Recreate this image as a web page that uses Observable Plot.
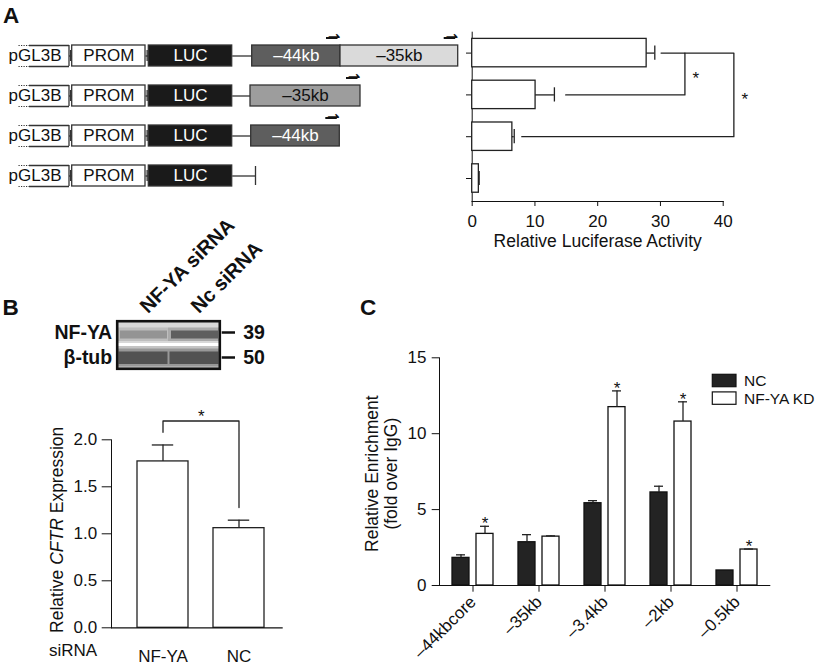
<!DOCTYPE html>
<html><head><meta charset="utf-8">
<script src="https://cdn.jsdelivr.net/npm/d3@7"></script>
<script src="https://cdn.jsdelivr.net/npm/@observablehq/plot@0.6"></script>
<style>
html,body{margin:0;padding:0;background:#fff;}
#fig{position:relative;width:827px;height:667px;overflow:hidden;background:#fff;font-family:"Liberation Sans",Arial,sans-serif;}
</style></head><body><div id="fig"></div>
<script>
// ================= DATA =================
// Panel A: reporter constructs (schematic units) + luciferase activity
const constructs = ["–44kb/–35kb", "–35kb", "–44kb", "vector"];
const vectorParts = ["pGL3B", "PROM", "LUC"];
const vectorStarts = [18, 71.7, 148.3];
const vectorEnds = [68.5, 145, 231.7];
const linkerEnds = [251.7, 250, 250.7, 255];
const insertConstruct = ["–44kb/–35kb", "–44kb/–35kb", "–35kb", "–44kb"];
const insertNames = ["–44kb", "–35kb", "–35kb", "–44kb"];
const insertStarts = [251.7, 340, 250, 250.7];
const insertEnds = [340, 457.7, 360, 339.3];
const luciferase = [27.8, 10.1, 6.4, 1.06];
const luciferaseErr = [1.3, 3.0, 0.3, 0.05];
const lucTicks = [0, 10, 20, 30, 40];
const bracketRowsA = [[0, 1], [0, 2]];
const bracketXA = [33.9, 41.7];
const bracketStartTopA = [30.1, 33.9];
const bracketStartBottomA = [14.9, 7.9];

// Panel B: western blot + CFTR expression
const blotLanes = ["NF-YA siRNA", "Nc siRNA"];
const blotProteins = ["NF-YA", "β-tub"];
const blotMarkers = ["39", "50"];
const blotIntensity = [[0.45, 0.82], [0.88, 0.88]];
const siRNA = ["NF-YA", "NC"];
const cftr = [1.77, 1.06];
const cftrErr = [0.175, 0.085];
const cftrTicks = [0, 0.5, 1.0, 1.5, 2.0];
const cftrBracket = [2.08, 2.2, 1.28];

// Panel C: ChIP enrichment
const regions = ["–44kbcore", "–35kb", "–3.4kb", "–2kb", "–0.5kb"];
const seriesC = ["NC", "NF-YA KD"];
const ncVals = [1.82, 2.85, 5.42, 6.13, 0.99];
const ncErr = [0.2, 0.5, 0.17, 0.41, 0];
const kdVals = [3.4, 3.22, 11.75, 10.8, 2.37];
const kdErr = [0.5, 0.05, 1.07, 1.3, 0.03];
const kdSig = [true, false, true, true, true];
const enrichTicks = [0, 5, 10, 15];

// ================= HELPERS =================
const fig = document.getElementById("fig");
const FONT = '"Liberation Sans", Arial, sans-serif';
const INK = "#1a1a1a";
const base = () => ({style: {fontFamily: FONT, fontSize: "17px", background: "transparent", overflow: "visible", color: "#111"}});
function place(el, left, top) {
  el.style.position = "absolute"; el.style.left = left + "px"; el.style.top = top + "px";
  el.style.maxWidth = "none";
  fig.appendChild(el); return el;
}

// ================= PANEL A: constructs =================
const vecRows = constructs.flatMap(c => vectorParts.map((p, j) => ({construct: c, part: p, start: vectorStarts[j], end: vectorEnds[j]})));
const inserts = insertNames.map((n, i) => ({construct: insertConstruct[i], name: n, start: insertStarts[i], end: insertEnds[i]}));
const linkers = constructs.map((c, i) => ({construct: c, start: vectorEnds[2], end: linkerEnds[i]}));
const joints = constructs.flatMap(c => [0, 1].map(j => ({construct: c, start: vectorEnds[j], end: vectorStarts[j + 1]})));
const pgl = vecRows.filter(d => d.part === "pGL3B");
const boxed = vecRows.filter(d => d.part !== "pGL3B");
const DOT = 10.5;
const insertFill = d => d.name === "–44kb" ? "#5e5e5e" : (d.construct === "–35kb" ? "#9d9d9d" : "#dadada");
const lineStyle = {stroke: "#333", strokeWidth: 1.3};

const plotA1 = Plot.plot({
  ...base(), width: 470, height: 200, marginTop: 44, marginBottom: 14, marginLeft: 0, marginRight: 0,
  x: {domain: [0, 470], axis: null},
  y: {domain: constructs, axis: null, paddingInner: 0.48, paddingOuter: 0},
  marks: [
    Plot.link(linkers, {x1: "start", x2: "end", y1: "construct", y2: "construct", ...lineStyle}),
    Plot.link(joints, {x1: "start", x2: "end", y1: "construct", y2: "construct", ...lineStyle}),
    Plot.tickX(joints, {x: d => (d.start + d.end) / 2, y: "construct", insetTop: 5, insetBottom: 5, ...lineStyle}),
    Plot.tickX(linkers.filter(d => !inserts.some(e => e.construct === d.construct)), {x: "end", y: "construct", insetTop: 1, insetBottom: 1, ...lineStyle}),
    Plot.barX(pgl, {x1: d => d.start + DOT, x2: "end", y: "construct", fill: "white"}),
    Plot.link(pgl, {x1: d => d.start + DOT, x2: "end", y1: "construct", y2: "construct", dy: -10.5, ...lineStyle}),
    Plot.link(pgl, {x1: d => d.start + DOT, x2: "end", y1: "construct", y2: "construct", dy: 10.5, ...lineStyle}),
    Plot.link(pgl, {x1: "start", x2: d => d.start + DOT, y1: "construct", y2: "construct", dy: -10.5, stroke: "#333", strokeWidth: 1.2, strokeDasharray: "1.2,1.3"}),
    Plot.link(pgl, {x1: "start", x2: d => d.start + DOT, y1: "construct", y2: "construct", dy: 10.5, stroke: "#333", strokeWidth: 1.2, strokeDasharray: "1.2,1.3"}),
    Plot.tickX(pgl, {x: "end", y: "construct", ...lineStyle}),
    Plot.barX(boxed, {x1: "start", x2: "end", y: "construct", fill: d => d.part === "LUC" ? INK : "white", ...lineStyle}),
    Plot.barX(inserts, {x1: "start", x2: "end", y: "construct", fill: insertFill, ...lineStyle}),
    Plot.text(vecRows, {x: d => (d.start + d.end) / 2 + (d.part === "pGL3B" ? -8.7 : 0), y: "construct", text: "part", fill: d => d.part === "LUC" ? "white" : "#111"}),
    Plot.text(inserts, {x: d => (d.start + d.end) / 2, y: "construct", text: "name", fill: d => d.name === "–44kb" ? "white" : "#111"}),
    // transcription-start arrows: shaft + harpoon head
    Plot.link(inserts, {x1: d => d.end - 14.5, x2: d => d.end - 3, y1: "construct", y2: "construct", dy: -18, stroke: "#111", strokeWidth: 2}),
    Plot.text(inserts, {x: d => d.end - 6.5, y: "construct", text: () => "⇀", dy: -19, fontFamily: "DejaVu Sans", fontWeight: "bold", fontSize: 15, fill: "#111"})
  ]
});
place(plotA1, 0, 0);

// ================= PANEL A: luciferase bars =================
const lucData = luciferase.map((v, i) => ({row: i, value: v, err: luciferaseErr[i]}));
const bracketsA = bracketXA.map((bx, k) => ({x: bx, top: bracketRowsA[k][0], bottom: bracketRowsA[k][1]}));
const bracketPtsA = bracketXA.flatMap((bx, k) => [
  {id: k, x: bracketStartTopA[k], y: bracketRowsA[k][0]},
  {id: k, x: bx, y: bracketRowsA[k][0]},
  {id: k, x: bx, y: bracketRowsA[k][1]},
  {id: k, x: bracketStartBottomA[k], y: bracketRowsA[k][1]}
]);
const barStyle = {stroke: "#222", strokeWidth: 1.3};
const plotA2 = Plot.plot({
  ...base(), width: 387, height: 260, marginLeft: 31.7, marginRight: 104.3, marginTop: 31.7, marginBottom: 59,
  x: {domain: [0, 40], ticks: lucTicks, tickSize: 5, tickPadding: 8, line: true, label: null},
  y: {domain: [-0.5, 3.55], reverse: true, ticks: lucData.map(d => d.row), tickFormat: () => "", tickSize: 5.7, line: true, label: null},
  marks: [
    Plot.rect(lucData, {x1: () => 0, x2: "value", y1: d => d.row - 0.34, y2: d => d.row + 0.34, fill: "white", ...barStyle}),
    Plot.ruleY(lucData, {y: "row", x1: "value", x2: d => d.value + d.err, ...barStyle}),
    Plot.ruleX(lucData, {x: d => d.value + d.err, y1: d => d.row - 0.17, y2: d => d.row + 0.17, ...barStyle}),
    Plot.line(bracketPtsA, {x: "x", y: "y", z: "id", ...barStyle}),
    Plot.text(bracketsA, {x: "x", y: d => (d.top + d.bottom) / 2, text: () => "*", dx: 11, dy: 5}),
    Plot.text(["Relative Luciferase Activity"], {frameAnchor: "bottom", textAnchor: "middle", dy: 45.7, fontSize: 17.5})
  ]
});
place(plotA2, 440, 0);

// ================= PANEL B: western blot =================
const blotCells = blotProteins.flatMap((p, i) => blotLanes.map((l, j) => ({protein: p, lane: l, intensity: blotIntensity[i][j]})));
const bandColor = d => d3.interpolateRgb("#d2d2d2", "#1e1e1e")(d.intensity);
const topRow = blotCells.filter(d => d.protein === blotProteins[0]);
const botRow = blotCells.filter(d => d.protein === blotProteins[1]);
const BM = {left: 116.7, right: 80.7, width: 300};
const frameW = BM.width - BM.left - BM.right;
const plotBlot = Plot.plot({
  ...base(), width: BM.width, height: 180, marginLeft: BM.left, marginRight: BM.right, marginTop: 120.7, marginBottom: 11.7,
  x: {domain: blotLanes, axis: null, paddingInner: 0, paddingOuter: 0},
  y: {domain: blotProteins, axis: null, paddingInner: 0.14, paddingOuter: 0},
  marks: [
    Plot.cell(blotCells, {x: "lane", y: "protein", fill: d => d.protein === blotProteins[0] ? "#d8d8d8" : "#c3c3c3"}),
    Plot.cell(topRow, {x: "lane", y: "protein", fill: bandColor, fillOpacity: 0.3, insetTop: 6.5, insetBottom: 2, insetLeft: 0, insetRight: 0}),
    Plot.cell(topRow, {x: "lane", y: "protein", fill: bandColor, fillOpacity: 0.7, insetTop: 9.5, insetBottom: 4.5, insetLeft: 3, insetRight: 1}),
    Plot.cell(botRow, {x: "lane", y: "protein", fill: bandColor, fillOpacity: 0.3, insetTop: 2.5, insetBottom: 1.5, insetLeft: 0, insetRight: 0}),
    Plot.cell(botRow, {x: "lane", y: "protein", fill: bandColor, fillOpacity: 0.7, insetTop: 5.5, insetBottom: 4, insetLeft: 1.5, insetRight: 0.5}),
    Plot.frame({stroke: "#111", strokeWidth: 2.6}),
    Plot.text(blotProteins, {y: d => d, frameAnchor: "left", textAnchor: "end", dx: -5, fontWeight: "bold", fontSize: 19.5}),
    Plot.ruleY(blotProteins, {y: d => d, insetLeft: frameW + 2.4, insetRight: -15.7, stroke: "#111", strokeWidth: 2.5}),
    Plot.text(blotProteins, {y: d => d, text: (d, i) => blotMarkers[i], frameAnchor: "right", textAnchor: "start", dx: 23.4, fontWeight: "bold", fontSize: 19.5}),
    Plot.text(blotLanes, {x: d => d, frameAnchor: "top", rotate: -45, textAnchor: "start", lineAnchor: "bottom", dx: 5, dy: -7, fontWeight: "bold", fontSize: 20})
  ]
});
place(plotBlot, 0, 200);

// ================= PANEL B: CFTR bars =================
const bData = siRNA.map((g, i) => ({group: g, value: cftr[i], err: cftrErr[i]}));
const bBracket = [
  {x: siRNA[0], y: cftrBracket[0]}, {x: siRNA[0], y: cftrBracket[1]},
  {x: siRNA[1], y: cftrBracket[1]}, {x: siRNA[1], y: cftrBracket[2]}
];
const plotB = Plot.plot({
  ...base(), width: 300, height: 287, marginLeft: 111, marginRight: 9.3, marginTop: 59.3, marginBottom: 39.7,
  x: {domain: siRNA, paddingInner: 0.326, paddingOuter: 0.336, tickSize: 0, tickPadding: 21.7, label: null},
  y: {domain: [0, 2], ticks: cftrTicks, tickFormat: d3.format(".1f"), tickSize: 9.3, tickPadding: 5, line: true, label: null},
  marks: [
    Plot.barY(bData, {x: "group", y: "value", fill: "white", ...barStyle}),
    Plot.ruleX(bData, {x: "group", y1: "value", y2: d => d.value + d.err, ...barStyle}),
    Plot.tickY(bData, {x: "group", y: d => d.value + d.err, insetLeft: 14.8, insetRight: 14.8, ...barStyle}),
    Plot.ruleY([0], {insetRight: 8, stroke: "#111", strokeWidth: 1.2}),
    Plot.line(bBracket, {x: "x", y: "y", ...barStyle}),
    Plot.text([cftrBracket[1]], {y: d => d, text: () => "*", dy: -4.7}),
    Plot.text(["siRNA"], {frameAnchor: "bottom-left", textAnchor: "end", dx: -14.3, dy: 27.7}),
    Plot.text(["Relative CFTR Expression"], {frameAnchor: "left", textAnchor: "middle", rotate: -90, dx: -54.3, dy: -4, fontSize: 17.5})
  ]
});
d3.select(plotB).selectAll("text").filter(function () { return this.textContent === "Relative CFTR Expression"; })
  .each(function () {
    const t = d3.select(this); t.text(null);
    t.append("tspan").text("Relative ");
    t.append("tspan").attr("font-style", "italic").text("CFTR");
    t.append("tspan").text(" Expression");
  });
place(plotB, 0, 380);

// ================= PANEL C: enrichment =================
const ncData = regions.map((r, i) => ({region: r, value: ncVals[i], err: ncErr[i]}));
const kdData = regions.map((r, i) => ({region: r, value: kdVals[i], err: kdErr[i], sig: kdSig[i]}));
const NCFILL = "#232323";
const seriesMarks = (data, dx, fill) => [
  Plot.barY(data, {x: "region", y: "value", dx, fill, stroke: "#111", strokeWidth: 1.3}),
  Plot.ruleX(data.filter(d => d.err > 0), {x: "region", y1: "value", y2: d => d.value + d.err, dx, ...barStyle}),
  Plot.tickY(data.filter(d => d.err > 0), {x: "region", y: d => d.value + d.err, dx, insetLeft: 4, insetRight: 4, ...barStyle})
];
const plotC = Plot.plot({
  ...base(), width: 487, height: 387, marginLeft: 99, marginRight: 57.7, marginTop: 77.3, marginBottom: 82,
  x: {domain: regions, paddingInner: 0.74, paddingOuter: 0.372, tickSize: 6.7, tickRotate: -45, tickPadding: 7, line: true, label: null},
  y: {domain: [0, 15], ticks: enrichTicks, tickSize: 7.3, tickPadding: 5.7, line: true, label: null},
  marks: [
    ...seriesMarks(ncData, -12, NCFILL),
    ...seriesMarks(kdData, 12, "white"),
    Plot.text(kdData.filter(d => d.sig), {x: "region", y: d => d.value + d.err, text: () => "*", dx: 12, dy: -2.75}),
    Plot.text(["Relative Enrichment\n(fold over IgG)"], {frameAnchor: "left", textAnchor: "middle", rotate: -90, dx: -58.2, dy: 2, lineHeight: 1.08, fontSize: 17.5})
  ]
});
place(plotC, 340, 280);

// ================= Panel letters & legend (overlay) =================
const ov = d3.select(fig).append("svg").attr("width", 827).attr("height", 667)
  .style("position", "absolute").style("left", "0px").style("top", "0px").style("pointer-events", "none")
  .style("font-family", FONT);
[["A", 3, 23], ["B", 2.5, 315], ["C", 360, 315]].forEach(([t, x, y]) =>
  ov.append("text").attr("x", x).attr("y", y).attr("font-size", 22.5).attr("font-weight", "bold").attr("fill", "#111").text(t));
const legend = ov.append("g");
seriesC.forEach((s, i) => {
  const y0 = 374.3 + i * 17.6;
  legend.append("rect").attr("x", 712.3).attr("y", y0).attr("width", 23.7).attr("height", 12.4)
    .attr("fill", i === 0 ? NCFILL : "white").attr("stroke", "#111").attr("stroke-width", 1.2);
  legend.append("text").attr("x", 744).attr("y", y0 + 12).attr("font-size", 15.5).attr("fill", "#111").text(s);
});
</script></body></html>
